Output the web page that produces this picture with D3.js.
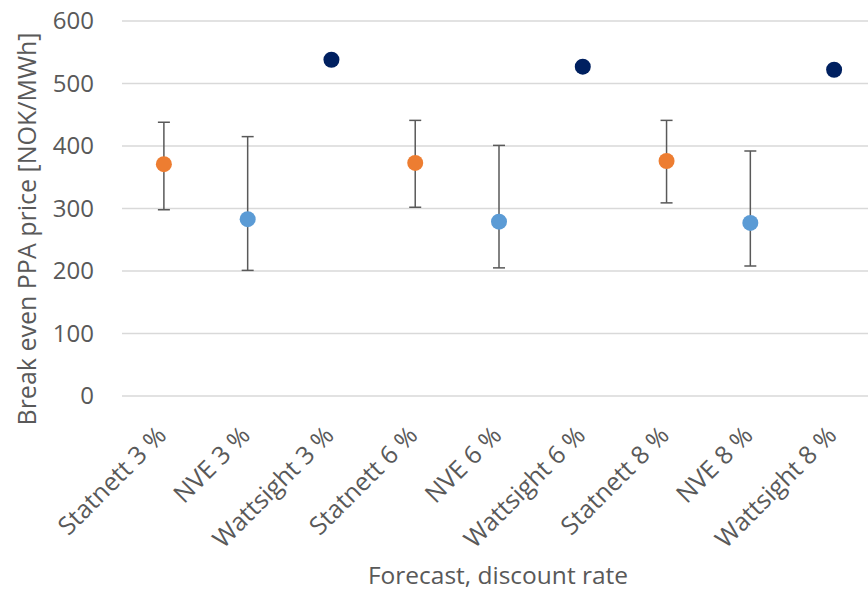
<!DOCTYPE html>
<html>
<head>
<meta charset="utf-8">
<script src="https://cdn.jsdelivr.net/npm/d3@7"></script>
<style>
  body { margin: 0; background: #fff; }
  text { font-family: "Open Sans", sans-serif; fill: #595959; }
</style>
</head>
<body>
<div id="chart"></div>
<script>
// data
let categories = ['Statnett 3 %', 'NVE 3 %', 'Wattsight 3 %', 'Statnett 6 %', 'NVE 6 %', 'Wattsight 6 %', 'Statnett 8 %', 'NVE 8 %', 'Wattsight 8 %'];
let forecast = ['Statnett', 'NVE', 'Wattsight', 'Statnett', 'NVE', 'Wattsight', 'Statnett', 'NVE', 'Wattsight'];
let price = [371, 283, 538, 373, 279, 527, 376, 277, 522];
let errLow = [298, 201, null, 302, 205, null, 309, 208, null];
let errHigh = [438, 415, null, 441, 401, null, 441, 392, null];
let yTicks = [0, 100, 200, 300, 400, 500, 600];

let colors = { Statnett: '#ED7D31', NVE: '#5B9BD5', Wattsight: '#002060' };

let data = categories.map(function(c, i) {
  return { cat: c, forecast: forecast[i], value: price[i], lo: errLow[i], hi: errHigh[i] };
});

let width = 868,
  height = 590;

let margin = { top: 21, bottom: 194, left: 122, right: -8 };

let svg = d3.select('#chart')
  .append('svg')
  .attr('width', width)
  .attr('height', height);

let xScale = d3.scaleBand()
  .domain(categories)
  .range([margin.left, width - margin.right]);

let yScale = d3.scaleLinear()
  .domain([0, 600])
  .range([height - margin.bottom, margin.top]);

// gridlines
svg.append('g')
  .selectAll('line')
  .data(yTicks)
  .enter()
  .append('line')
    .attr('x1', margin.left)
    .attr('x2', width)
    .attr('y1', d => yScale(d))
    .attr('y2', d => yScale(d))
    .attr('stroke', '#d9d9d9')
    .attr('stroke-width', 1.3);

// y axis
let yAxis = svg.append('g')
  .attr('transform', `translate(${margin.left},0)`)
  .call(d3.axisLeft(yScale).tickValues(yTicks).tickSize(0).tickPadding(28));
yAxis.select('.domain').remove();
yAxis.selectAll('text')
  .style('font-size', '24px')
  .style('font-family', '"Open Sans", sans-serif')
  .attr('fill', '#595959');

// x axis
let xAxis = svg.append('g')
  .attr('transform', `translate(0,${height - margin.bottom})`)
  .call(d3.axisBottom(xScale).tickSize(0));
xAxis.select('.domain').remove();
xAxis.selectAll('text')
  .style('font-size', '25px')
  .style('font-family', '"Open Sans", sans-serif')
  .attr('fill', '#595959')
  .style('text-anchor', 'end')
  .attr('x', 0)
  .attr('y', 0)
  .attr('dy', '0')
  .attr('transform', 'translate(4,41) rotate(-45)');

// axis titles
svg.append('text')
  .attr('transform', `translate(36,229) rotate(-90)`)
  .attr('text-anchor', 'middle')
  .style('font-size', '25px')
  .text('Break even PPA price [NOK/MWh]');

svg.append('text')
  .attr('x', 498)
  .attr('y', 584)
  .attr('text-anchor', 'middle')
  .style('font-size', '24.5px')
  .text('Forecast, discount rate');

// error bars
let withErr = data.filter(d => d.lo != null);
let cx = d => xScale(d.cat) + xScale.bandwidth() / 2;

let eb = svg.append('g')
  .attr('stroke', '#595959')
  .attr('stroke-width', 1.5);

eb.selectAll('.stem')
  .data(withErr)
  .enter()
  .append('line')
    .attr('x1', cx).attr('x2', cx)
    .attr('y1', d => yScale(d.lo))
    .attr('y2', d => yScale(d.hi));

eb.selectAll('.capHi')
  .data(withErr)
  .enter()
  .append('line')
    .attr('x1', d => cx(d) - 6).attr('x2', d => cx(d) + 6)
    .attr('y1', d => yScale(d.hi))
    .attr('y2', d => yScale(d.hi));

eb.selectAll('.capLo')
  .data(withErr)
  .enter()
  .append('line')
    .attr('x1', d => cx(d) - 6).attr('x2', d => cx(d) + 6)
    .attr('y1', d => yScale(d.lo))
    .attr('y2', d => yScale(d.lo));

// points
svg.append('g')
  .selectAll('circle')
  .data(data)
  .enter()
  .append('circle')
    .attr('cx', cx)
    .attr('cy', d => yScale(d.value))
    .attr('r', 8)
    .attr('fill', d => colors[d.forecast]);
</script>
</body>
</html>
